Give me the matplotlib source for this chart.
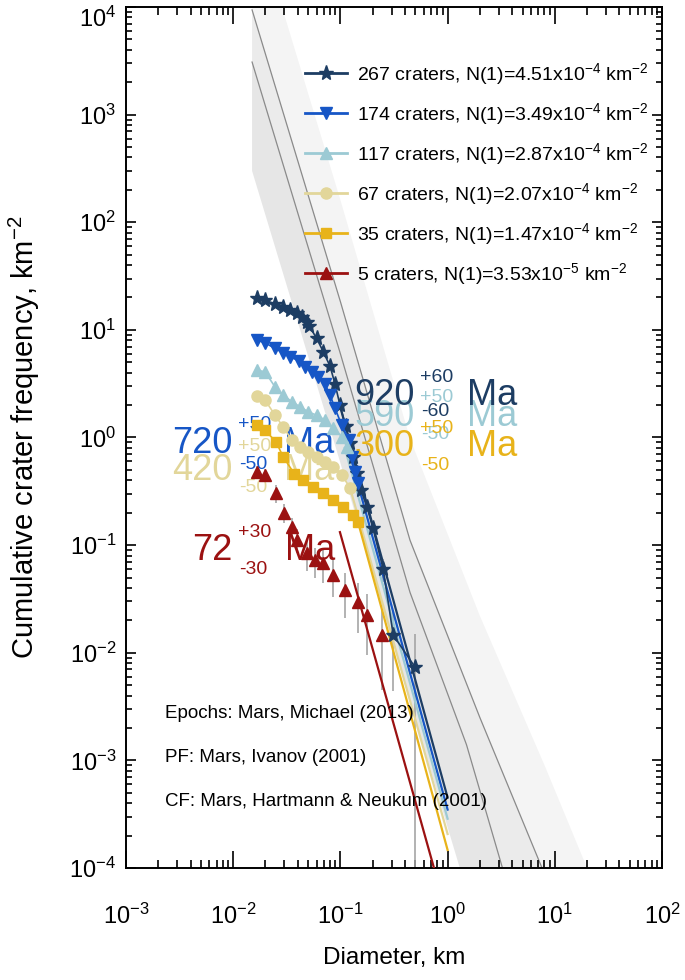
import numpy as np
import matplotlib.pyplot as plt
from matplotlib.lines import Line2D
from matplotlib.ticker import LogLocator, NullFormatter, LogFormatterSciNotation

plt.rcParams['font.family'] = ['Liberation Sans', 'DejaVu Sans']
plt.rcParams['mathtext.fontset'] = 'custom'
plt.rcParams['mathtext.rm'] = 'Liberation Sans'
plt.rcParams['mathtext.it'] = 'Liberation Sans:italic'
plt.rcParams['mathtext.bf'] = 'Liberation Sans:bold'
plt.rcParams['mathtext.default'] = 'regular'
plt.rcParams['axes.unicode_minus'] = False

# crater counts (diameter km, cumulative frequency km^-2)
d_267 = [0.0166, 0.0198, 0.0245, 0.0293, 0.0339, 0.0391, 0.0436, 0.0485, 0.0513, 0.0601,
         0.0692, 0.080, 0.0892, 0.0991, 0.1117, 0.123, 0.131, 0.142, 0.1556, 0.177,
         0.201, 0.251, 0.311, 0.497]
n_267 = [19.6, 18.9, 17.4, 16.4, 15.3, 14.2, 13.2, 11.9, 10.8, 8.34,
         6.26, 4.61, 3.13, 2.0, 1.28, 0.887, 0.658, 0.467, 0.324, 0.225,
         0.144, 0.0598, 0.0146, 0.00734]
err_lo_267 = [0.045, 0.0044, 5e-5]
err_hi_267 = [0.075, 0.025, 0.015]

d_174 = [0.0166, 0.0198, 0.0245, 0.0293, 0.0339, 0.0414, 0.0468, 0.054, 0.0622, 0.0718,
         0.080, 0.0892, 0.103, 0.121, 0.127, 0.137, 0.147]
n_174 = [8.04, 7.59, 6.73, 6.12, 5.62, 5.13, 4.54, 4.08, 3.67, 3.13,
         2.48, 1.86, 1.30, 0.946, 0.66, 0.48, 0.374]

d_117 = [0.0166, 0.0198, 0.0245, 0.0293, 0.0352, 0.042, 0.0502, 0.0601, 0.0718, 0.0859, 0.103, 0.115]
n_117 = [4.23, 4.08, 2.96, 2.48, 2.15, 1.93, 1.73, 1.61, 1.45, 1.22, 1.02, 0.82]

d_67 = [0.0166, 0.0198, 0.0245, 0.0293, 0.0352, 0.042, 0.050, 0.060, 0.072, 0.086, 0.103, 0.123]
n_67 = [2.43, 2.23, 1.62, 1.25, 0.95, 0.815, 0.73, 0.66, 0.59, 0.53, 0.45, 0.34]

d_35 = [0.0166, 0.0198, 0.0251, 0.0293, 0.0372, 0.045, 0.0558, 0.0692, 0.0859, 0.106, 0.132, 0.147]
n_35 = [1.30, 1.17, 0.91, 0.66, 0.46, 0.40, 0.348, 0.302, 0.262, 0.227, 0.19, 0.165]

d_5 = [0.0166, 0.0198, 0.0251, 0.030, 0.0352, 0.0391, 0.0485, 0.058, 0.0692, 0.0859,
       0.110, 0.147, 0.176, 0.243]
n_5 = [0.480, 0.448, 0.302, 0.2, 0.148, 0.111, 0.0837, 0.0726, 0.0676, 0.0526,
       0.0382, 0.0297, 0.0223, 0.0146]
err_lo_5 = [0.42, 0.39, 0.245, 0.16, 0.115, 0.085, 0.058, 0.05, 0.044, 0.033,
            0.021, 0.0152, 0.0095, 0.0045]
err_hi_5 = [0.54, 0.51, 0.36, 0.24, 0.18, 0.14, 0.11, 0.095, 0.09, 0.072,
            0.055, 0.044, 0.035, 0.025]

# isochron fits: start point and N(1)
fit_d0 = [0.1, 0.1, 0.11, 0.123, 0.147, 0.099]
fit_n0 = [1.9, 1.45, 0.80, 0.34, 0.16, 0.132]
n_craters = [267, 174, 117, 67, 35, 5]
n1_mant = ['4.51', '3.49', '2.87', '2.07', '1.47', '3.53']
n1_exp = [-4, -4, -4, -4, -4, -5]
n1_val = [4.51e-4, 3.49e-4, 2.87e-4, 2.07e-4, 1.47e-4, 3.53e-5]

ages = ['920', '720', '590', '420', '300', '72']
age_err = ['60', '50', '50', '50', '50', '30']

# epoch boundary isochrons (grey)
iso_a_d = [0.015, 0.1, 0.446, 1.5, 3.25]
iso_a_n = [3080, 6.0, 0.0364, 1.4e-3, 1e-4]
iso_b_d = [0.015, 0.1, 0.446, 2.0, 7.6]
iso_b_n = [9400, 18.3, 0.111, 2.5e-3, 1e-4]
iso_l_d = [0.015, 0.1, 0.446, 1.3]
iso_l_n = [300, 0.58, 3.5e-3, 1e-4]
iso_c_d = [0.0285, 0.1, 0.446, 2.0, 8.1, 20]
iso_c_n = [1e4, 161, 0.977, 0.022, 8.8e-4, 1e-4]

colors = ['#1d3d63', '#1656c6', '#9ccad4', '#e2d69a', '#e8b31a', '#9b1111']
markers = ['*', 'v', '^', 'o', 's', '^']
msizes = [11, 8, 8, 8, 7, 8]

fig = plt.figure(figsize=(6.85, 9.8), dpi=100)
ax = fig.add_axes([126/685, 112/980, 536/685, 861/980])
ax.set_xscale('log')
ax.set_yscale('log')
ax.set_xlim(1e-3, 1e2)
ax.set_ylim(1e-4, 1e4)

# shaded epochs between boundary isochrons
ax.fill(iso_b_d + iso_c_d[::-1] + [0.015], iso_b_n + iso_c_n[::-1] + [1e4], color='#f4f4f4', lw=0, zorder=0)
ax.fill(iso_a_d + iso_b_d[::-1], iso_a_n + iso_b_n[::-1], color='#ebebeb', lw=0, zorder=0)
ax.fill(iso_l_d + iso_a_d[::-1], iso_l_n + iso_a_n[::-1], color='#e6e6e6', lw=0, zorder=0)
ax.plot(iso_a_d, iso_a_n, color='#8a8a8a', lw=0.9, zorder=1)
ax.plot(iso_b_d, iso_b_n, color='#8a8a8a', lw=0.9, zorder=1)

series_d = [d_267, d_174, d_117, d_67, d_35, d_5]
series_n = [n_267, n_174, n_117, n_67, n_35, n_5]

# error bars
ax.errorbar(d_5, n_5, yerr=[np.array(n_5) - np.array(err_lo_5), np.array(err_hi_5) - np.array(n_5)],
            fmt='none', ecolor='#a5a5a5', elinewidth=1.2, capsize=0, zorder=2)
ax.errorbar(d_267[-3:], n_267[-3:],
            yerr=[np.array(n_267[-3:]) - np.array(err_lo_267), np.array(err_hi_267) - np.array(n_267[-3:])],
            fmt='none', ecolor='#a5a5a5', elinewidth=1.2, capsize=0, zorder=2)

for i in range(6):
    ax.plot([fit_d0[i], 1.0], [fit_n0[i], n1_val[i]], color=colors[i], lw=1.6, zorder=3)
for i in range(6):
    ls = 'none' if i == 5 else '-'
    ax.plot(series_d[i], series_n[i], color=colors[i], ls=ls, lw=1.2,
            marker=markers[i], ms=msizes[i], mec=colors[i], zorder=5)

# legend
handles = []
labels = []
for i in range(6):
    handles.append(Line2D([], [], color=colors[i], lw=2, marker=markers[i], ms=msizes[i]))
    labels.append('%d craters, N(1)=%sx10$^{%d}$ km$^{-2}$' % (n_craters[i], n1_mant[i], n1_exp[i]))
ax.legend(handles, labels, loc='upper left', bbox_to_anchor=(0.334, 0.937), frameon=False,
          fontsize=14, numpoints=1, handlelength=2.15, handletextpad=0.5, labelspacing=0.72,
          borderpad=0, borderaxespad=0)

# age labels: (x right of number, y centre) in axes fraction
age_pos = [(0.539, 0.549), (0.1996, 0.4936), (0.539, 0.524), (0.1996, 0.462), (0.539, 0.490), (0.1996, 0.369)]
sup_dy = [(0.021, -0.019), (0.021, -0.0245), (0.023, -0.020), (0.027, -0.0195), (0.020, -0.022), (0.021, -0.022)]
ma_x = [0.636, 0.295, 0.636, 0.295, 0.636, 0.297]
order = [2, 0, 4, 3, 1, 5]
for k in order:
    x, y = age_pos[k]
    c = colors[k]
    ax.text(x, y, ages[k], transform=ax.transAxes, ha='right', va='center', fontsize=26, color=c, zorder=4)
    ax.text(x + 0.01, y + sup_dy[k][0], '+' + age_err[k], transform=ax.transAxes, ha='left', va='center',
            fontsize=14, color=c, zorder=4)
    ax.text(x + 0.012, y + sup_dy[k][1], '-' + age_err[k], transform=ax.transAxes, ha='left', va='center',
            fontsize=14, color=c, zorder=4)
    ax.text(ma_x[k], y, 'Ma', transform=ax.transAxes, ha='left', va='center', fontsize=26, color=c, zorder=4)

ax.text(0.073, 0.180, 'Epochs: Mars, Michael (2013)', transform=ax.transAxes, fontsize=13.5, va='center')
ax.text(0.073, 0.128, 'PF: Mars, Ivanov (2001)', transform=ax.transAxes, fontsize=13.5, va='center')
ax.text(0.073, 0.0767, 'CF: Mars, Hartmann & Neukum (2001)', transform=ax.transAxes, fontsize=13.5, va='center')

for a in (ax.xaxis, ax.yaxis):
    a.set_major_locator(LogLocator(base=10, numticks=20))
    a.set_minor_locator(LogLocator(base=10, subs=np.arange(2, 10), numticks=20))
    a.set_minor_formatter(NullFormatter())
    a.set_major_formatter(LogFormatterSciNotation())
ax.tick_params(which='both', direction='in', top=True, right=True, width=1.2, labelsize=17)
ax.tick_params(axis='x', which='major', length=12.5, pad=26)
ax.tick_params(axis='x', which='minor', length=6)
ax.tick_params(axis='y', which='major', length=7.5, pad=7)
ax.tick_params(axis='y', which='minor', length=4.5)
for s in ax.spines.values():
    s.set_linewidth(1.4)

ax.set_xlabel('Diameter, km', fontsize=17.5)
ax.set_ylabel('Cumulative crater frequency, km$^{-2}$', fontsize=21)
ax.xaxis.set_label_coords(0.5, -0.092)
ax.yaxis.set_label_coords(-0.156, 0.5)

# keep the top y label inside the figure
fig.canvas.draw()
for t in ax.yaxis.get_major_ticks():
    if abs(t.get_loc() - 1e4) < 1:
        t.label1.set_verticalalignment('top')

fig.savefig('out.png', dpi=100)
